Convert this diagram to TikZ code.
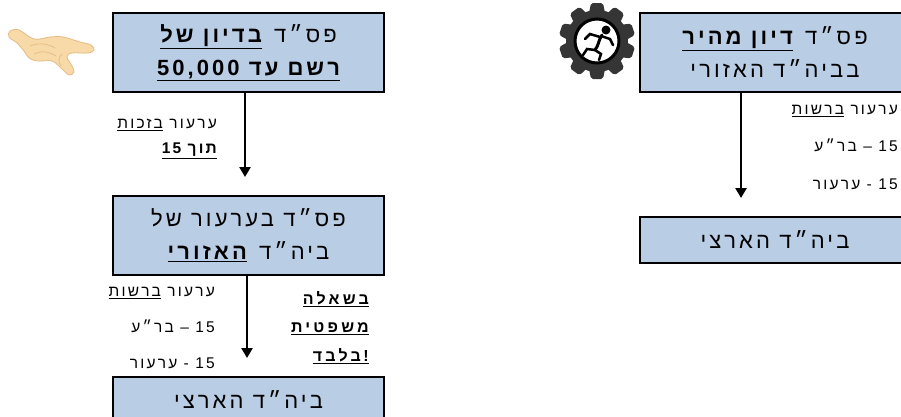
\documentclass[tikz,border=0pt]{standalone}
\usepackage{fontspec}
\setmainfont{Liberation Sans}
\newfontfamily\hebfont[Script=Hebrew,LetterSpace=14]{Liberation Sans}
\TeXXeTstate=1
\usetikzlibrary{arrows.meta}

\definecolor{boxblue}{HTML}{B9CDE5}
\definecolor{skin}{HTML}{F8D9A8}
\definecolor{skinline}{HTML}{E4BC84}
\definecolor{gearc}{HTML}{353535}

\newcommand{\ul}[1]{\underline{\beginR #1\endR}}
\newcommand{\bul}[1]{\textbf{\ul{#1}}}

\begin{document}
\begin{tikzpicture}[x=1pt,y=-1pt]
  \tikzset{box/.style = {shape=rectangle,draw,line width=2pt,fill=boxblue,minimum width=271pt,align=center,inner sep=0pt,font=\hebfont\fontsize{22}{33}\selectfont}}
  \tikzset{lbl/.style = {anchor=north east,align=right,inner sep=0pt,font=\hebfont\fontsize{15.5}{#1}\selectfont}}
  \tikzset{flow/.style = {line width=2.5pt,-{Triangle[length=10pt,width=11pt]},shorten >=18pt}}

  \path[use as bounding box] (0,0) rectangle (901,416);
  \clip (0,0) rectangle (901,416);

	\node[box,minimum height=79pt] (P1) at (248.5,52.5) {\beginR פס״ד \bul{בדיון של}\endR\\ \beginR\bul{רשם עד \beginL50,000\endL}\endR};
	\node[box,minimum height=79pt] (P2) at (248.5,235.5) {\beginR פס״ד בערעור של\endR\\ \beginR ביה״ד \bul{האזורי}\endR};
	\node[box,minimum height=46pt] (P3) at (248.5,400) {\beginR ביה״ד הארצי\endR};
	\node[box,minimum height=79pt] (R1) at (775,52.5) {\beginR פס״ד \bul{דיון מהיר}\endR\\ \beginR בביה״ד האזורי\endR};
	\node[box,minimum height=46pt] (R2) at (775,240) {\beginR ביה״ד הארצי\endR};

	\node[lbl=25] (L1) at (217,119) {\beginR ערעור \ul{בזכות}\endR\\ \beginR\bul{תוך \beginL15\endL}\endR};
	\node[lbl=36] (L2) at (215,287) {\beginR ערעור \ul{ברשות}\endR\\ \beginR\beginL15\endL{} – בר״ע\endR\\ \beginR\beginL15\endL{} - ערעור\endR};
	\node[lbl=28.5,font=\hebfont\fontsize{16}{28.5}\selectfont\addfontfeatures{LetterSpace=20}] (L3) at (369,291) {\bul{בשאלה}\\ \bul{משפטית}\\ \textbf{\underline{\beginL בלבד\,!\endL}}};
	\node[lbl=37.5] (L4) at (898,105) {\beginR ערעור \ul{ברשות}\endR\\ \beginR\beginL15\endL{} – בר״ע\endR\\ \beginR\beginL15\endL{} - ערעור\endR};

       \foreach \from/\to/\dx in {P1/P2/-3.5,P2/P3/-1.5,R1/R2/-34}
    \draw[flow] ([xshift=\dx pt]\from.south) -- ([xshift=\dx pt]\to.north);

	% pointing hand
	\draw[fill=skin,draw=skinline,line width=0.8pt] plot[smooth cycle,tension=0.6] coordinates {(10,31) (19,30) (34,39) (50,37) (63,37) (80,42) (91,45) (94,50) (88,53) (72,53) (67,57) (72,66) (74,72) (69,75) (61,68) (52,61) (38,61) (29,58) (24,51) (17,43) (9,37)};
	\draw[skinline,line width=0.7pt] (30,46) .. controls (40,42) and (48,44) .. (55,48);
	\draw[skinline,line width=0.7pt] (34,54) .. controls (42,50) and (50,52) .. (56,56);
	\draw[skinline,line width=0.7pt] (62,54) .. controls (58,58) and (58,62) .. (61,66);

	% gear with runner
	\begin{scope}[shift={(597,41)}]
	  \foreach \a in {0,36,...,324}
	    \fill[gearc,rotate=\a,rounded corners=2pt] (-6,-38) -- (6,-38) -- (8,-28) -- (-8,-28) -- cycle;
	  \fill[gearc] (0,0) circle (31);
	  \fill[white] (0,0) circle (22);
	  \draw[black,line width=3pt] (0,0) circle (22);
	  \fill[black] (9,-11) circle (4.5);
	  \draw[black,line width=3pt,line cap=round] (5,-6) .. controls (1,0) and (2,4) .. (-2,9);
	  \draw[black,line width=2.5pt,line cap=round] (4,-5) -- (13,-2) -- (16,4);
	  \draw[black,line width=2.5pt,line cap=round] (3,-4) -- (-7,-7) -- (-12,-2);
	  \draw[black,line width=2.5pt,line cap=round] (-2,9) -- (-10,8) -- (-14,14);
	  \draw[black,line width=2.5pt,line cap=round] (-2,9) -- (4,13) -- (2,19);
	\end{scope}
\end{tikzpicture}
\end{document}
